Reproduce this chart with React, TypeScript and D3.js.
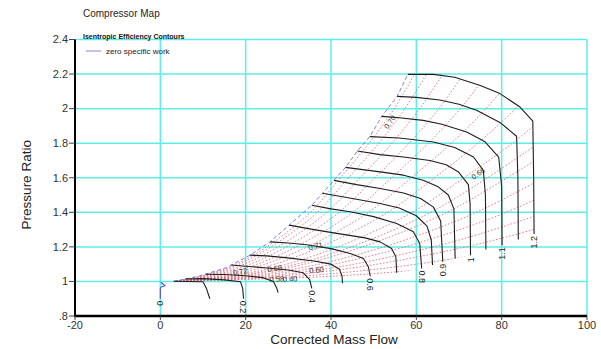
import React, { useRef, useEffect } from "react";
import * as d3 from "d3";

type Pt = [number, number];

const xTicks = [-20, 0, 20, 40, 60, 80, 100];
const yTicks = [0.8, 1.0, 1.2, 1.4, 1.6, 1.8, 2.0, 2.2, 2.4];
const yTickLabels = [".8", "1", "1.2", "1.4", "1.6", "1.8", "2", "2.2", "2.4"];

// corrected speed lines: [mass flow, pressure ratio]
const speeds = [0, 0.1, 0.2, 0.3, 0.4, 0.5, 0.6, 0.7, 0.8, 0.85, 0.9, 0.95, 1.0, 1.05, 1.1, 1.15, 1.2];
const speedLabels = ["0", "", "0.2", "", "0.4", "", "0.6", "", "0.8", "", "0.9", "", "1", "", "1.1", "", "1.2"];
const speedLines: Pt[][] = [
  [[0.1, 0.995], [1.1, 0.975], [0.2, 0.968], [0, 0.96], [0, 0.9]],
  [[3.2, 1.001], [6.5, 1.0], [10, 0.998], [10.8, 0.96], [11.6, 0.9]],
  [[5.8, 1.014], [10, 1.016], [15, 1.009], [18.8, 0.998], [19.3, 0.96], [19.5, 0.9]],
  [[10.6, 1.042], [15, 1.04], [20, 1.033], [24, 1.022], [26.5, 1.0], [27.3, 0.96], [27.6, 0.935]],
  [[16.6, 1.095], [20, 1.088], [25, 1.078], [30, 1.066], [33.5, 1.05], [35, 1.01], [35.5, 0.96]],
  [[21, 1.152], [25, 1.148], [30.4, 1.135], [36, 1.118], [40, 1.1], [42, 1.07], [42.6, 1.03], [42.7, 0.99]],
  [[25.7, 1.229], [30, 1.222], [34.3, 1.212], [40, 1.19], [44.5, 1.162], [47.6, 1.133], [48.75, 1.085], [49.2, 1.03]],
  [[30.2, 1.326], [36, 1.3], [42.1, 1.275], [48, 1.252], [51.5, 1.229], [54.2, 1.191], [55.2, 1.143], [55.4, 1.05]],
  [[35.5, 1.441], [40, 1.42], [44.5, 1.403], [50, 1.375], [55.4, 1.335], [59.3, 1.287], [60.8, 1.22], [61.25, 1.075]],
  [[38, 1.51], [45, 1.48], [51.5, 1.451], [56, 1.425], [60, 1.38], [62.5, 1.32], [63.5, 1.24], [63.8, 1.095]],
  [[40.7, 1.585], [46, 1.56], [51.5, 1.538], [57, 1.512], [61, 1.48], [64, 1.43], [65.7, 1.35], [66.2, 1.114]],
  [[43.4, 1.66], [51.5, 1.634], [57, 1.615], [61.6, 1.586], [65, 1.55], [67.5, 1.5], [68.8, 1.42], [69.1, 1.133]],
  [[46.2, 1.755], [51.5, 1.734], [57, 1.72], [63.2, 1.7], [67, 1.675], [69.8, 1.635], [72.2, 1.56], [72.6, 1.45], [72.7, 1.152]],
  [[49.1, 1.838], [56, 1.83], [64, 1.807], [69, 1.775], [73.4, 1.72], [75.7, 1.643], [76.2, 1.5], [76.3, 1.185]],
  [[51.9, 1.955], [56, 1.947], [61.6, 1.932], [66, 1.91], [71.8, 1.865], [76, 1.81], [79.3, 1.72], [80, 1.55], [80.1, 1.21]],
  [[55.5, 2.071], [60, 2.065], [65.5, 2.05], [70, 2.025], [74.1, 1.99], [79.6, 1.92], [83.5, 1.84], [83.8, 1.6], [83.9, 1.243]],
  [[58, 2.198], [64, 2.198], [69, 2.182], [75, 2.134], [79.6, 2.087], [84.3, 2.009], [87.3, 1.927], [87.5, 1.6], [87.6, 1.274]],
];

// surge line (dashed, left edge of the map)
const surgeLine: Pt[] = [
  [3, 1.0], [9, 1.03], [15.5, 1.08], [21, 1.152], [25.7, 1.229], [30.2, 1.326], [35.5, 1.441], [38, 1.51],
  [40.7, 1.585], [43.4, 1.66], [46.2, 1.755], [49.1, 1.838], [51.9, 1.955], [55.5, 2.071], [58, 2.198],
];

// isentropic efficiency contours (dotted red)
const effContours: Pt[][] = [
  [[3, 1], [9.3, 1.03], [15.9, 1.08], [21.6, 1.15], [27.8, 1.25], [35.2, 1.4], [42.2, 1.6], [48.9, 1.8], [54.8, 2.0], [59.6, 2.2]],
  [[3, 1], [9.7, 1.03], [16.6, 1.08], [22.5, 1.15], [29, 1.25], [36.8, 1.4], [44.1, 1.6], [51.2, 1.8], [57.3, 2.0], [62.4, 2.2]],
  [[3, 1], [10.3, 1.03], [17.6, 1.08], [23.9, 1.15], [30.8, 1.25], [39, 1.4], [46.8, 1.6], [54.3, 1.8], [60.8, 2.0], [66.2, 2.2]],
  [[3, 1], [11.1, 1.03], [18.9, 1.08], [25.6, 1.15], [33, 1.25], [41.9, 1.4], [50.3, 1.6], [58.3, 1.8], [65.3, 2.0], [71.1, 2.2]],
  [[3, 1], [11.9, 1.03], [20.3, 1.08], [27.6, 1.15], [35.5, 1.25], [45.1, 1.4], [54.2, 1.6], [62.8, 1.8], [70.3, 2.0], [76.6, 2.2]],
  [[3, 1], [13, 1.03], [22, 1.08], [29.9, 1.15], [38.5, 1.25], [48.8, 1.4], [58.8, 1.6], [68.2, 1.8], [76.3, 2.0], [83.2, 2.2]],
  [[3, 1], [14.2, 1.03], [24, 1.08], [32.6, 1.15], [42, 1.25], [53.3, 1.4], [64.3, 1.6], [74.4, 1.8], [83.3, 2.0], [90.9, 2.2]],
  [[3, 1], [15.7, 1.03], [26.5, 1.08], [36.1, 1.15], [46.5, 1.25], [59, 1.4], [71.2, 1.6], [82.5, 1.8], [92.3, 2.0]],
  [[3, 1], [17, 1.03], [28.5, 1.08], [38.8, 1.15], [50, 1.25], [63.4, 1.4], [76.7, 1.6], [88.7, 1.8]],
  [[3, 1], [18, 1.03], [30.2, 1.08], [41.1, 1.15], [53, 1.25], [67.2, 1.4], [81.3, 1.6], [94.1, 1.8]],
  [[3, 1], [19.9, 1.03], [33.3, 1.08], [45.4, 1.15], [58.5, 1.25], [74.1, 1.4], [89.8, 1.6]],
  [[3, 1], [21.8, 1.03], [36.4, 1.08], [49.6, 1.15], [64, 1.25], [81.1, 1.4], [98.4, 1.6]],
  [[3, 1], [24.4, 1.03], [40.7, 1.08], [55.4, 1.15], [71.5, 1.25], [90.5, 1.4]],
  [[3, 1], [27.3, 1.03], [45.5, 1.08], [62, 1.15], [80, 1.25], [101.3, 1.4]],
  [[3, 1], [32.4, 1.03], [53.7, 1.08], [73.2, 1.15], [94.5, 1.25]],
  [[3, 1], [40.1, 1.03], [66.4, 1.08], [90.7, 1.15]],
];

const effLabels = ["0.70", "0.66", "0.71", "0.72", "0.68", "0.60", "0.58", "0.40"];
const effLabelAt: Pt[] = [[53.8, 1.922], [74.5, 1.624], [36.4, 1.204], [18.7, 1.056], [26.8, 1.075], [36.6, 1.066], [27.3, 1.014], [30.4, 1.014]];
const effLabelAngle = [-55, -35, -15, -10, -8, -5, -3, -3];

const CompressorMap: React.FC = () => {
  const svgRef = useRef<SVGSVGElement | null>(null);

  useEffect(() => {
    if (!svgRef.current) return;
    const svg = d3.select(svgRef.current);
    svg.selectAll("*").remove();

    const width = 601;
    const height = 349;
    const font = "'Liberation Sans', Arial, sans-serif";

    const x = d3.scaleLinear().domain([-20, 100]).range([75, 587]);
    const y = d3.scaleLinear().domain([0.8, 2.4]).range([316, 39.5]);

    svg.attr("width", width).attr("height", height).style("font-family", font);
    svg.append("rect").attr("width", width).attr("height", height).attr("fill", "#fff");

    // cyan grid
    const grid = svg.append("g").attr("stroke", "#5ceee8").attr("stroke-width", 1.5);
    grid.selectAll("line.v")
      .data(xTicks.slice(1))
      .join("line")
      .attr("x1", d => x(d)).attr("x2", d => x(d))
      .attr("y1", y(0.8)).attr("y2", y(2.4));
    grid.selectAll("line.h")
      .data(yTicks.slice(1))
      .join("line")
      .attr("y1", d => y(d)).attr("y2", d => y(d))
      .attr("x1", x(-20)).attr("x2", x(100));

    const line = d3.line<Pt>().x(d => x(d[0])).y(d => y(d[1]));
    const smooth = d3.line<Pt>().x(d => x(d[0])).y(d => y(d[1])).curve(d3.curveCatmullRom.alpha(0.5));

    // map envelope used to clip the efficiency contours
    const last = speedLines.length - 1;
    const envelope: Pt[] = [
      ...surgeLine,
      ...speedLines[last].slice(1),
      ...speedLines.slice(1, last).reverse().map(l => l[l.length - 1]),
    ];
    svg.append("defs").append("clipPath").attr("id", "env")
      .append("path").attr("d", line(envelope) + "Z");

    svg.append("g")
      .attr("clip-path", "url(#env)")
      .selectAll("path")
      .data(effContours)
      .join("path")
      .attr("d", d => smooth(d) as string)
      .attr("fill", "none")
      .attr("stroke", "#e2606e")
      .attr("stroke-width", 0.8)
      .attr("stroke-dasharray", "1.6,1.8");

    // surge line
    svg.append("path")
      .attr("d", line(surgeLine) as string)
      .attr("fill", "none")
      .attr("stroke", "#6f6fd8")
      .attr("stroke-width", 0.9)
      .attr("stroke-dasharray", "4,2.5");

    // speed lines
    svg.append("g")
      .selectAll("path")
      .data(speedLines)
      .join("path")
      .attr("d", d => line(d) as string)
      .attr("fill", "none")
      .attr("stroke", (_, i) => (speeds[i] === 0 ? "#5a4fc8" : "#1e1e1e"))
      .attr("stroke-width", 1.1)
      .attr("stroke-linejoin", "round");

    svg.append("g")
      .attr("font-size", 9)
      .attr("fill", "#222")
      .selectAll("text")
      .data(speedLines.map((l, i) => ({ end: l[l.length - 1], s: speeds[i], t: speedLabels[i] })).filter(d => d.t))
      .join("text")
      .attr("transform", d => `translate(${x(d.end[0])},${y(d.end[1]) + 2}) rotate(${d.s < 0.9 ? 90 : -90})`)
      .attr("text-anchor", d => (d.s < 0.9 ? "start" : "end"))
      .attr("dy", "0.35em")
      .text(d => d.t);

    // efficiency contour labels
    svg.append("g")
      .attr("font-size", 7.5)
      .attr("fill", "#333")
      .attr("text-anchor", "middle")
      .selectAll("text")
      .data(effLabels)
      .join("text")
      .attr("transform", (_, i) => `translate(${x(effLabelAt[i][0])},${y(effLabelAt[i][1])}) rotate(${effLabelAngle[i]})`)
      .attr("dy", "0.35em")
      .text(d => d);

    // axes
    svg.append("line")
      .attr("x1", x(-20)).attr("x2", x(-20)).attr("y1", y(2.4)).attr("y2", y(0.8) + 1)
      .attr("stroke", "#000").attr("stroke-width", 2);
    svg.append("line")
      .attr("x1", x(-20) - 1).attr("x2", x(100)).attr("y1", y(0.8)).attr("y2", y(0.8))
      .attr("stroke", "#000").attr("stroke-width", 2.5);

    const yAx = svg.append("g");
    yAx.selectAll("line")
      .data(yTicks)
      .join("line")
      .attr("x1", x(-20) - 6).attr("x2", x(-20))
      .attr("y1", d => y(d)).attr("y2", d => y(d))
      .attr("stroke", "#444");
    yAx.selectAll("text")
      .data(yTicks)
      .join("text")
      .attr("x", x(-20) - 7)
      .attr("y", d => y(d))
      .attr("dy", "0.35em")
      .attr("text-anchor", "end")
      .attr("font-size", 11)
      .attr("fill", "#333")
      .text((_, i) => yTickLabels[i]);

    const xAx = svg.append("g");
    xAx.selectAll("line")
      .data(xTicks)
      .join("line")
      .attr("x1", d => x(d)).attr("x2", d => x(d))
      .attr("y1", y(0.8)).attr("y2", y(0.8) + 4)
      .attr("stroke", "#444");
    xAx.selectAll("text")
      .data(xTicks)
      .join("text")
      .attr("x", d => x(d))
      .attr("y", y(0.8) + 13)
      .attr("text-anchor", "middle")
      .attr("font-size", 11)
      .attr("fill", "#333")
      .text(d => String(d));

    // titles
    svg.append("text")
      .attr("x", (x(-20) + x(100)) / 2 + 3).attr("y", 344)
      .attr("text-anchor", "middle").attr("font-size", 13.5).attr("fill", "#222")
      .text("Corrected Mass Flow");
    svg.append("text")
      .attr("transform", `translate(26,${(y(0.8) + y(2.4)) / 2 + 7}) rotate(-90)`)
      .attr("text-anchor", "middle").attr("font-size", 13.5).attr("fill", "#222")
      .attr("dy", "0.35em")
      .text("Pressure Ratio");
    svg.append("text")
      .attr("x", 83).attr("y", 17)
      .attr("font-size", 10).attr("fill", "#222")
      .text("Compressor Map");

    // legend
    svg.append("text")
      .attr("x", 83).attr("y", 38.5)
      .attr("font-size", 7).attr("font-weight", "bold").attr("fill", "#111")
      .text("Isentropic Efficiency Contours");
    svg.append("line")
      .attr("x1", 86).attr("x2", 101).attr("y1", 51).attr("y2", 51)
      .attr("stroke", "#9080e0").attr("stroke-width", 1);
    svg.append("text")
      .attr("x", 106).attr("y", 51).attr("dy", "0.35em")
      .attr("font-size", 8).attr("fill", "#222")
      .text("zero specific work");
  }, []);

  return <svg ref={svgRef} style={{ position: "absolute", left: 0, top: 0 }} />;
};

export default function App() {
  return <CompressorMap />;
}
